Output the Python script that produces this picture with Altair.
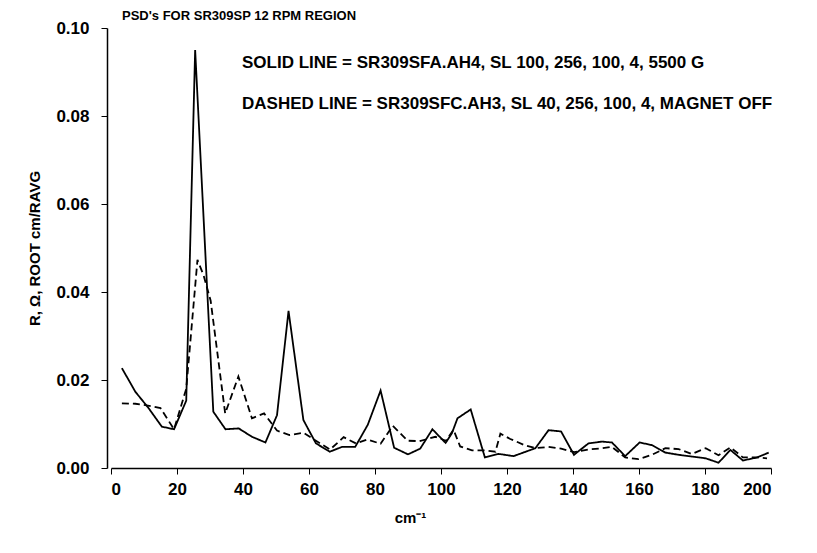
import altair as alt
import pandas as pd

# Solid line: SR309SFA.AH4
solid_x = [3.3, 7.4, 11.2, 15.4, 19.1, 22.8, 25.5, 31.0, 34.7, 38.7, 42.7, 46.8, 50.3, 53.8,
           58.3, 62.1, 66.3, 70.0, 74.0, 77.8, 81.7, 85.8, 90.0, 93.7, 97.4, 101.4, 103.3,
           105.0, 109.0, 113.3, 117.5, 122.0, 128.6, 132.6, 136.4, 140.3, 144.7, 148.8,
           151.8, 155.8, 160.2, 163.9, 168.0, 172.0, 176.0, 180.2, 184.1, 187.7, 191.5,
           195.8, 199.3]
solid_y = [0.0227, 0.0173, 0.0138, 0.0094, 0.0088, 0.0153, 0.0950, 0.0128, 0.0088, 0.0090,
           0.0071, 0.0058, 0.0120, 0.0357, 0.0109, 0.0056, 0.0037, 0.0048, 0.0048, 0.0098,
           0.0176, 0.0046, 0.0031, 0.0044, 0.0088, 0.0057, 0.0079, 0.0113, 0.0133, 0.0024,
           0.0032, 0.0027, 0.0045, 0.0086, 0.0083, 0.0030, 0.0056, 0.0060, 0.0058, 0.0027,
           0.0058, 0.0052, 0.0035, 0.0030, 0.0026, 0.0022, 0.0012, 0.0041, 0.0017, 0.0024,
           0.0035]

# Dashed line: SR309SFC.AH3
dashed_x = [3.3, 7.4, 11.2, 15.0, 19.1, 22.8, 26.2, 28.1, 30.2, 34.6, 38.6, 42.7, 46.4,
            50.3, 54.1, 58.3, 62.1, 66.4, 70.5, 74.2, 77.7, 81.7, 85.4, 89.9, 93.5, 98.3,
            101.5, 103.8, 105.8, 109.4, 113.4, 116.5, 118.0, 121.0, 125.3, 128.6, 132.6,
            136.4, 140.4, 144.7, 148.8, 151.8, 155.8, 159.9, 163.9, 168.0, 172.0, 176.0,
            180.2, 184.1, 187.7, 191.5, 195.8, 198.8]
dashed_y = [0.0147, 0.0146, 0.0142, 0.0136, 0.0088, 0.0180, 0.0473, 0.0437, 0.0380, 0.0124,
            0.0208, 0.0113, 0.0124, 0.0085, 0.0075, 0.0080, 0.0062, 0.0042, 0.0070, 0.0056,
            0.0065, 0.0055, 0.0096, 0.0062, 0.0061, 0.0071, 0.0062, 0.0087, 0.0049, 0.0040,
            0.0040, 0.0037, 0.0078, 0.0066, 0.0052, 0.0045, 0.0048, 0.0044, 0.0036, 0.0042,
            0.0045, 0.0048, 0.0024, 0.0020, 0.0030, 0.0045, 0.0043, 0.0032, 0.0045, 0.0029,
            0.0047, 0.0024, 0.0024, 0.0022]

x_ticks = [0, 20, 40, 60, 80, 100, 120, 140, 160, 180, 200]
y_ticks = [0.00, 0.02, 0.04, 0.06, 0.08, 0.10]

title_text = "PSD's FOR SR309SP 12 RPM REGION"
solid_label = "SOLID LINE = SR309SFA.AH4, SL 100, 256, 100, 4, 5500 G"
dashed_label = "DASHED LINE = SR309SFC.AH3, SL 40, 256, 100, 4, MAGNET OFF"

df = pd.concat([
    pd.DataFrame({"x": solid_x, "y": solid_y, "series": "solid"}),
    pd.DataFrame({"x": dashed_x, "y": dashed_y, "series": "dashed"}),
])

FONT = "Liberation Sans"

lines = alt.Chart(df).mark_line(color="black", strokeWidth=1.8).encode(
    x=alt.X("x:Q", scale=alt.Scale(domain=[0, 200], nice=False, zero=False),
            axis=alt.Axis(values=x_ticks, title="cm⁻¹", grid=False, tickSize=6,
                          labelFontSize=17, labelFont=FONT, labelFontWeight="bold",
                          labelColor="black", labelPadding=7,
                          titleFont=FONT, titleFontSize=15, titleFontWeight="bold",
                          titleColor="black", titlePadding=13, titleX=299,
                          domainColor="black", tickColor="black", domainWidth=1.5)),
    y=alt.Y("y:Q", scale=alt.Scale(domain=[0, 0.10], nice=False),
            axis=alt.Axis(values=y_ticks, format=".2f", title="R, Ω, ROOT cm/RAVG",
                          grid=False, tickSize=6, offset=4,
                          labelFontSize=17, labelFont=FONT, labelFontWeight="bold",
                          labelColor="black", labelPadding=12,
                          titleFont=FONT, titleFontSize=15, titleFontWeight="bold",
                          titleColor="black", titlePadding=13,
                          domainColor="black", tickColor="black", domainWidth=1.5)),
    strokeDash=alt.StrokeDash("series:N",
                              scale=alt.Scale(domain=["solid", "dashed"], range=[[1, 0], [7, 4]]),
                              legend=None),
    detail="series:N",
)

def label(text, x, y, size):
    return alt.Chart(pd.DataFrame({"t": [text]})).mark_text(
        align="left", baseline="middle", font=FONT, fontSize=size, fontWeight="bold",
        color="black").encode(text="t:N", x=alt.value(x), y=alt.value(y))

chart = alt.layer(
    lines,
    label(title_text, 11, -12, 13),
    label(solid_label, 131, 35, 17),
    label(dashed_label, 131, 76, 17),
).properties(
    width=660, height=440,
    autosize=alt.AutoSizeParams(type="none"),
    padding={"left": 103, "top": 20, "right": 30, "bottom": 70},
    background="white",
).configure_view(stroke=None)

chart.save("out.html", embed_options={"renderer": "svg", "actions": False})
